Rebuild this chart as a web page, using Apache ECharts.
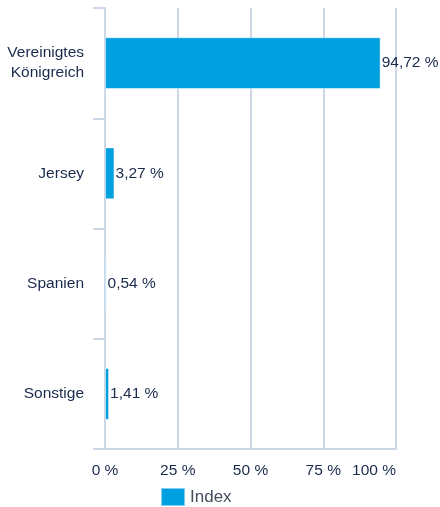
<!DOCTYPE html>
<html>
<head>
<meta charset="utf-8">
<script src="https://cdn.jsdelivr.net/npm/echarts@6/dist/echarts.min.js"></script>
<style>
  html, body { margin: 0; padding: 0; background: #fff; }
  #chart { width: 440px; height: 507px; }
</style>
</head>
<body>
<div id="chart"></div>
<script>
// Daten
var categories = ['Vereinigtes\nKönigreich', 'Jersey', 'Spanien', 'Sonstige']
var values = [94.72, 3.27, 0.54, 1.41]
var seriesName = 'Index'
var xTicks = [0, 25, 50, 75, 100]

var textColor = '#1a2a4c'
var lineColor = '#cdd7e6'
var barColor = '#009fdf'

function fmt(v) {
  return v.toFixed(2).replace('.', ',') + ' %'
}

var myChart = echarts.init(document.getElementById('chart'))
var option = {
  animation: false,
  textStyle: { fontFamily: 'Liberation Sans, Arial, sans-serif' },
  grid: { left: 105, right: 44, top: 8, bottom: 58, containLabel: false },
  legend: {
    top: 482,
    left: 155,
    itemWidth: 24,
    itemHeight: 18,
    itemGap: 8,
    icon: 'rect',
    textStyle: { color: '#454c5c', fontSize: 17 },
    data: [seriesName]
  },
  xAxis: {
    type: 'value',
    min: xTicks[0],
    max: xTicks[xTicks.length - 1],
    interval: 25,
    axisLine: { show: true, lineStyle: { color: lineColor, width: 2 } },
    axisTick: { show: false },
    splitLine: { show: true, lineStyle: { color: lineColor, width: 2 } },
    axisLabel: {
      color: textColor,
      fontSize: 15.5,
      margin: 14,
      alignMaxLabel: 'right',
      formatter: function(v) { return v + ' %' }
    }
  },
  yAxis: {
    type: 'category',
    inverse: true,
    data: categories,
    axisLine: { show: true, lineStyle: { color: lineColor, width: 2 } },
    axisTick: { show: true, length: 12, lineStyle: { color: lineColor, width: 2 } },
    axisLabel: { color: textColor, fontSize: 15.5, margin: 21, lineHeight: 20 }
  },
  series: [
    {
      name: seriesName,
      type: 'bar',
      data: values,
      barWidth: '47%',
      itemStyle: { color: barColor, borderColor: 'rgba(255,255,255,0.5)', borderWidth: 1 },
      label: {
        show: true,
        position: 'right',
        distance: 1,
        color: textColor,
        fontSize: 15.5,
        formatter: function(p) { return fmt(p.value) }
      }
    }
  ]
}
myChart.setOption(option)
</script>
</body>
</html>
